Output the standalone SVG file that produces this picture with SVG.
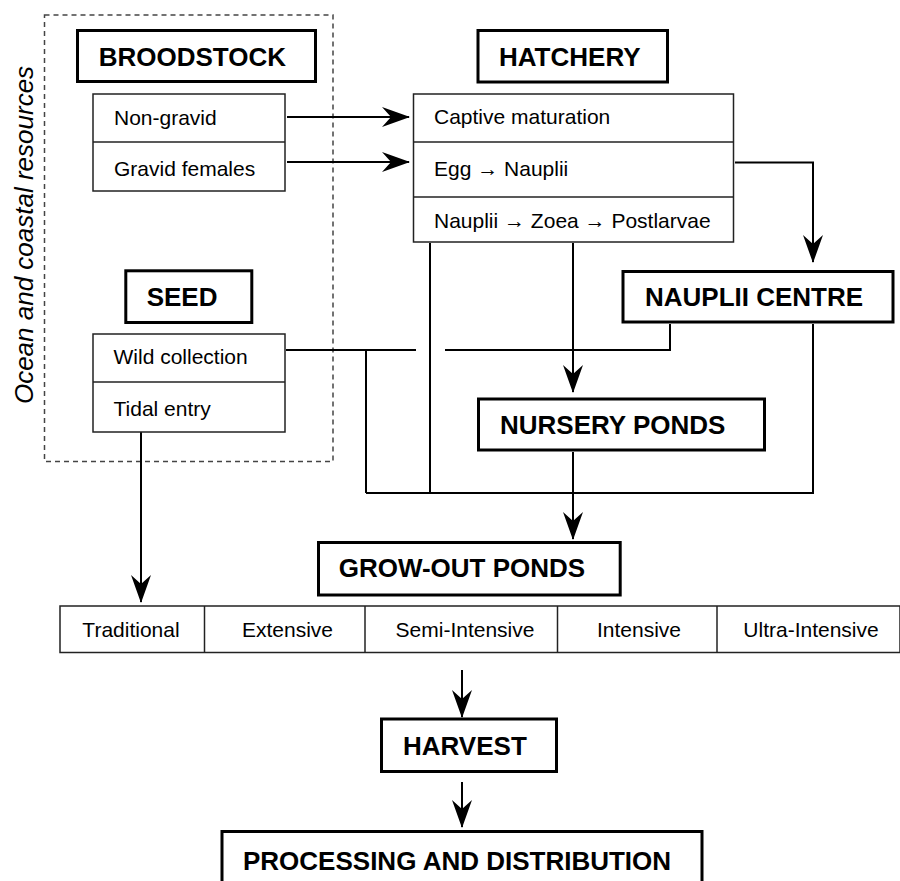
<svg xmlns="http://www.w3.org/2000/svg" width="900" height="881" viewBox="0 0 900 881">
<style>
.title{fill:#fff;stroke:#000;stroke-width:3}
.sub{fill:#fff;stroke:#222;stroke-width:1.5}
.div{stroke:#222;stroke-width:1.5}
.h{font-family:"Liberation Sans",Arial,sans-serif;font-weight:bold;font-size:26px;fill:#000}
.t{font-family:"Liberation Sans",Arial,sans-serif;font-size:21px;fill:#000}
.c{fill:none;stroke:#000;stroke-width:2}
.a{marker-end:url(#arr)}
</style>
<defs>
<marker id="arr" markerUnits="userSpaceOnUse" markerWidth="28" markerHeight="20" refX="27" refY="10" orient="auto">
<path d="M0,0 L28,10 L0,20 L9,10 Z" fill="#000"/>
</marker>
</defs>
<rect x="0" y="0" width="900" height="881" fill="#fff"/>

<g id="ocean-region">
<rect x="44.5" y="15" width="288.5" height="446.5" fill="none" stroke="#444" stroke-width="1.5" stroke-dasharray="5 4"/>
<text transform="translate(33,235) rotate(-90)" text-anchor="middle" font-family="'Liberation Sans',Arial,sans-serif" font-style="italic" font-size="26px" fill="#000">Ocean and coastal resources</text>
</g>

<g id="connectors">
<line class="c a" x1="287" y1="117" x2="409" y2="117"/>
<line class="c a" x1="287" y1="162" x2="409" y2="162"/>
<polyline class="c a" points="735,162.5 813,162.5 813,262"/>
<line class="c a" x1="573" y1="243" x2="573" y2="392"/>
<line class="c" x1="430" y1="243" x2="430" y2="493"/>
<line class="c" x1="286" y1="350" x2="416" y2="350"/>
<polyline class="c" points="445,350 670,350 670,324"/>
<line class="c" x1="366" y1="350" x2="366" y2="493"/>
<polyline class="c" points="366,493 813,493 813,324"/>
<line class="c a" x1="573" y1="452" x2="573" y2="539"/>
<line class="c a" x1="141" y1="432" x2="141" y2="602"/>
<line class="c a" x1="462" y1="670" x2="462" y2="717"/>
<line class="c a" x1="462" y1="782" x2="462" y2="827"/>
</g>

<g id="broodstock">
<rect class="title" x="77.5" y="30.5" width="238" height="51"/>
<text class="h" x="98.7" y="66">BROODSTOCK</text>
</g>
<g id="broodstock-types">
<rect class="sub" x="93" y="94" width="192" height="97"/>
<line class="div" x1="93" y1="142" x2="285" y2="142"/>
<text class="t" x="114" y="125">Non-gravid</text>
<text class="t" x="114" y="176">Gravid females</text>
</g>

<g id="hatchery">
<rect class="title" x="478" y="30.5" width="189.5" height="51.5"/>
<text class="h" x="499" y="66">HATCHERY</text>
</g>
<g id="hatchery-stages">
<rect class="sub" x="413.5" y="94" width="320" height="148"/>
<line class="div" x1="413.5" y1="142" x2="733.5" y2="142"/>
<line class="div" x1="413.5" y1="197" x2="733.5" y2="197"/>
<text class="t" x="434" y="124">Captive maturation</text>
<text class="t" x="434" y="176">Egg → Nauplii</text>
<text class="t" x="434" y="227.5">Nauplii → Zoea → Postlarvae</text>
</g>

<g id="seed">
<rect class="title" x="125.8" y="270.8" width="126" height="51.7"/>
<text class="h" x="146.7" y="306">SEED</text>
</g>
<g id="seed-sources">
<rect class="sub" x="93" y="334" width="192" height="98"/>
<line class="div" x1="93" y1="382" x2="285" y2="382"/>
<text class="t" x="113.5" y="364">Wild collection</text>
<text class="t" x="113.5" y="416">Tidal entry</text>
</g>

<g id="nauplii-centre">
<rect class="title" x="623" y="271.5" width="270" height="50.5"/>
<text class="h" x="645" y="306">NAUPLII CENTRE</text>
</g>

<g id="nursery-ponds">
<rect class="title" x="478.5" y="399" width="286" height="51"/>
<text class="h" x="500" y="434">NURSERY PONDS</text>
</g>

<g id="grow-out-ponds">
<rect class="title" x="318.5" y="542.5" width="301.7" height="52.5"/>
<text class="h" x="338.7" y="577">GROW-OUT PONDS</text>
</g>

<g id="grow-out-types">
<rect class="sub" x="60" y="606" width="840" height="46.5"/>
<line class="div" x1="204.5" y1="606" x2="204.5" y2="652.5"/>
<line class="div" x1="365" y1="606" x2="365" y2="652.5"/>
<line class="div" x1="557.5" y1="606" x2="557.5" y2="652.5"/>
<line class="div" x1="717" y1="606" x2="717" y2="652.5"/>
<text class="t" x="131" y="637" text-anchor="middle">Traditional</text>
<text class="t" x="287.5" y="637" text-anchor="middle">Extensive</text>
<text class="t" x="465" y="637" text-anchor="middle">Semi-Intensive</text>
<text class="t" x="639" y="637" text-anchor="middle">Intensive</text>
<text class="t" x="811" y="637" text-anchor="middle">Ultra-Intensive</text>
</g>

<g id="harvest">
<rect class="title" x="381.5" y="719" width="175" height="52.5"/>
<text class="h" x="403" y="755">HARVEST</text>
</g>

<g id="processing">
<rect class="title" x="222" y="831.5" width="480" height="60"/>
<text class="h" x="243" y="870">PROCESSING AND DISTRIBUTION</text>
</g>
</svg>
